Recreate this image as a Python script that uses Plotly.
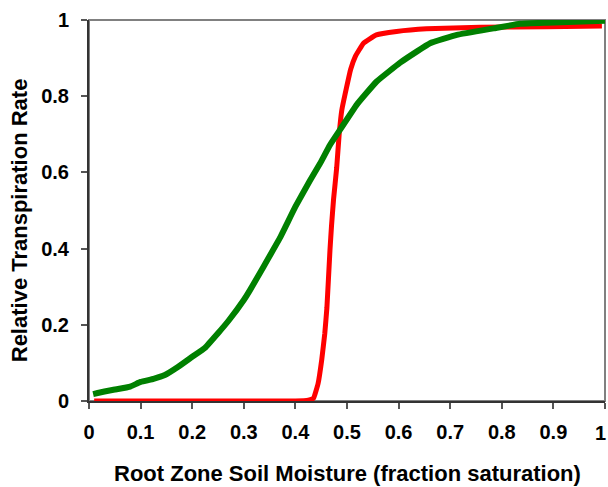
import plotly.graph_objects as go

# Red curve (steep response)
red_x = [0.01, 0.10, 0.20, 0.30, 0.40, 0.425, 0.435, 0.444, 0.451, 0.457, 0.461, 0.467, 0.470,
         0.474, 0.480, 0.485, 0.490, 0.499, 0.507, 0.516, 0.532, 0.557, 0.596, 0.654,
         0.758, 0.887, 0.994]
red_y = [0.0, 0.0, 0.0, 0.0, 0.0, 0.002, 0.007, 0.046, 0.108, 0.178, 0.244, 0.396, 0.460,
         0.530, 0.612, 0.703, 0.764, 0.822, 0.870, 0.904, 0.939, 0.961, 0.970, 0.977,
         0.981, 0.982, 0.984]

# Green curve (gradual response)
green_x = [0.008, 0.03, 0.05, 0.08, 0.10, 0.125, 0.147, 0.17, 0.20, 0.225, 0.25, 0.27, 0.30,
           0.312, 0.338, 0.37, 0.40, 0.428, 0.448, 0.467, 0.486, 0.519, 0.557, 0.603, 0.635,
           0.661, 0.713, 0.784, 0.835, 0.887, 1.0]
green_y = [0.018, 0.025, 0.030, 0.038, 0.050, 0.058, 0.068, 0.087, 0.116, 0.140, 0.178, 0.210, 0.265,
           0.291, 0.352, 0.428, 0.510, 0.578, 0.624, 0.672, 0.711, 0.778, 0.838, 0.888, 0.917,
           0.939, 0.961, 0.978, 0.990, 0.993, 0.998]

x_ticks = [0, 0.1, 0.2, 0.3, 0.4, 0.5, 0.6, 0.7, 0.8, 0.9, 1]
x_labels = ["0", "0.1", "0.2", "0.3", "0.4", "0.5", "0.6", "0.7", "0.8", "0.9", "1"]
y_ticks = [0, 0.2, 0.4, 0.6, 0.8, 1]
y_labels = ["0", "0.2", "0.4", "0.6", "0.8", "1"]
x_title = "Root Zone Soil Moisture (fraction saturation)"
y_title = "Relative Transpiration Rate"

fig = go.Figure()
fig.add_trace(go.Scatter(x=red_x, y=red_y, mode="lines",
                         line=dict(color="#FF0000", width=5, shape="spline", smoothing=0.3)))
fig.add_trace(go.Scatter(x=green_x, y=green_y, mode="lines",
                         line=dict(color="#008000", width=6, shape="spline", smoothing=0.3)))

FAM = "Liberation Sans, Arial, sans-serif"
tickfont = dict(family=FAM, size=20, color="black", weight="bold")
titlefont = dict(family=FAM, size=22, color="black", weight="bold")

# last x tick label is placed as an annotation so it stays inside the page edge
shown_x_labels = x_labels[:-1] + [""]

fig.update_layout(
    width=608, height=487,
    margin=dict(l=89, r=3, t=20, b=86, autoexpand=False),
    paper_bgcolor="white", plot_bgcolor="white",
    showlegend=False,
    font=dict(family=FAM, color="black"),
    shapes=[dict(type="rect", xref="paper", yref="paper", x0=0, y0=0, x1=1, y1=1,
                 line=dict(color="#808080", width=2), layer="below")],
    annotations=[
        dict(text=x_title, xref="paper", yref="paper", x=0.5, y=-0.189,
             xanchor="center", yanchor="middle", showarrow=False, font=titlefont),
        dict(text=y_title, xref="paper", yref="paper", x=-0.134, y=0.474,
             xanchor="center", yanchor="middle", textangle=-90, showarrow=False, font=titlefont),
        dict(text=x_labels[-1], xref="x", yref="paper", x=x_ticks[-1], y=-0.084,
             xanchor="right", yanchor="middle", xshift=3, showarrow=False, font=tickfont),
    ],
    xaxis=dict(range=[0, 1], tickvals=x_ticks, ticktext=shown_x_labels, automargin=False,
               showgrid=False, zeroline=False, showline=True, linecolor="#333333", linewidth=2,
               ticks="outside", ticklen=6, tickwidth=2, tickcolor="#555555",
               tickfont=tickfont, ticklabelstandoff=6),
    yaxis=dict(range=[0, 1], tickvals=y_ticks, ticktext=y_labels, automargin=False,
               showgrid=False, zeroline=False, showline=True, linecolor="#333333", linewidth=2,
               ticks="outside", ticklen=6, tickwidth=2, tickcolor="#555555",
               tickfont=tickfont, ticklabelstandoff=8),
)

fig.write_html("out.html")
